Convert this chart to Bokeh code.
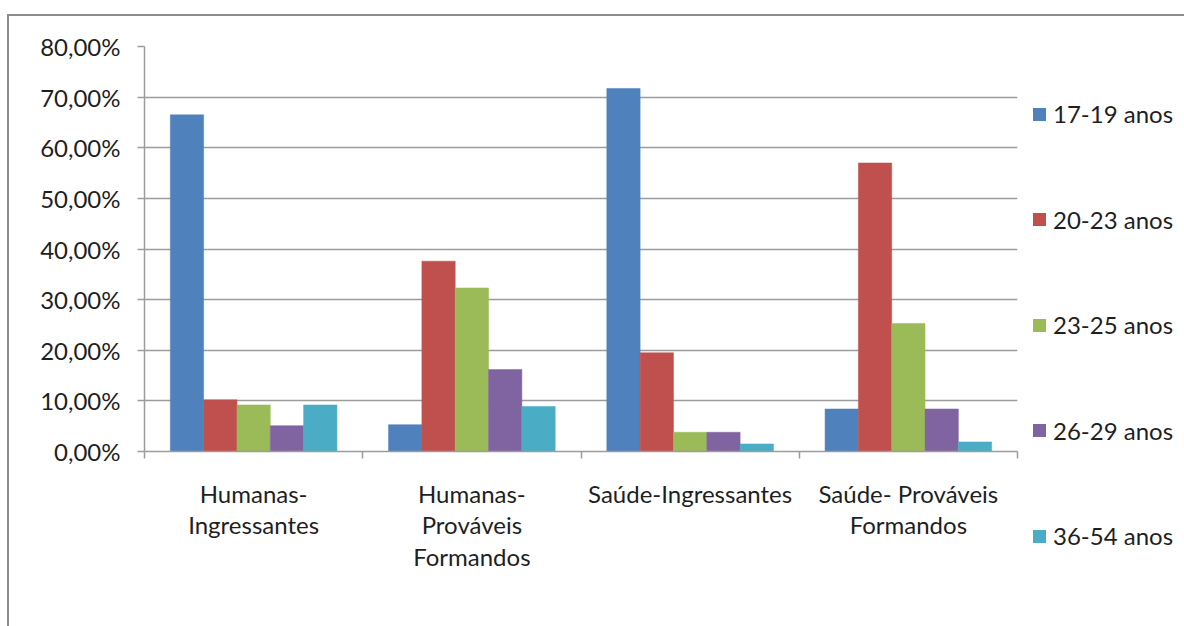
from bokeh.plotting import figure
from bokeh.layouts import row
from bokeh.models import ColumnDataSource, Range1d, FixedTicker, Div
from bokeh.transform import dodge
from bokeh.embed import file_html
from bokeh.resources import INLINE

# Age distribution of students by area and stage (percent)
categories = [
    "Humanas-\nIngressantes",
    "Humanas-\nProváveis\nFormandos",
    "Saúde-Ingressantes",
    "Saúde- Prováveis\nFormandos",
]
series = ["17-19 anos", "20-23 anos", "23-25 anos", "26-29 anos", "36-54 anos"]
colors = ["#4F81BD", "#C0504D", "#9BBB59", "#8064A2", "#4BACC6"]

v_17_19 = [66.5, 5.3, 71.7, 8.4]
v_20_23 = [10.2, 37.6, 19.5, 57.0]
v_23_25 = [9.2, 32.3, 3.8, 25.3]
v_26_29 = [5.1, 16.2, 3.8, 8.4]
v_36_54 = [9.2, 8.9, 1.5, 1.9]

y_ticks = [0, 10, 20, 30, 40, 50, 60, 70, 80]
y_tick_labels = ["0,00%", "10,00%", "20,00%", "30,00%", "40,00%",
                 "50,00%", "60,00%", "70,00%", "80,00%"]

FONT = "Lato"
TEXT = "#1f1f1f"
GRID = "#9c9c9c"
FS = "24px"

centers = [i + 0.5 for i in range(len(categories))]
keys = ["s0", "s1", "s2", "s3", "s4"]
src = ColumnDataSource(dict(x=centers, s0=v_17_19, s1=v_20_23, s2=v_23_25,
                            s3=v_26_29, s4=v_36_54))

# main bar chart
p = figure(width=1010, height=610, output_backend="svg", toolbar_location=None,
           x_range=Range1d(0, len(categories)), y_range=Range1d(0, 80),
           min_border_left=135, min_border_right=2,
           min_border_top=30, min_border_bottom=175)
p.outline_line_color = None
p.background_fill_color = "white"
p.border_fill_color = "white"

bar_w = 0.1527
for k, (key, col) in enumerate(zip(keys, colors)):
    p.vbar(x=dodge("x", (k - 2) * bar_w, range=p.x_range), top=key,
           width=bar_w, source=src, fill_color=col, line_color=col,
           line_width=0.5)

# y axis
p.yaxis.ticker = FixedTicker(ticks=y_ticks)
p.yaxis.major_label_overrides = {t: s for t, s in zip(y_ticks, y_tick_labels)}
p.yaxis.major_label_text_font = FONT
p.yaxis.major_label_text_font_size = FS
p.yaxis.major_label_text_color = TEXT
p.yaxis.major_label_standoff = 17
p.yaxis.axis_line_color = GRID
p.yaxis.axis_line_width = 1.5
p.yaxis.major_tick_line_color = GRID
p.yaxis.major_tick_line_width = 1.5
p.yaxis.major_tick_out = 7
p.yaxis.major_tick_in = 0
p.yaxis.minor_tick_line_color = None

# x axis: labels at category centres, tick marks at category boundaries
p.xaxis.ticker = FixedTicker(ticks=centers,
                             minor_ticks=list(range(len(categories) + 1)))
p.xaxis.major_label_overrides = {c: s for c, s in zip(centers, categories)}
p.xaxis.major_label_text_font = FONT
p.xaxis.major_label_text_font_size = FS
p.xaxis.major_label_text_color = TEXT
p.xaxis.major_label_text_line_height = 1.1
p.xaxis.major_label_standoff = 20
p.xaxis.major_label_orientation = "horizontal"
p.xaxis.axis_line_color = GRID
p.xaxis.axis_line_width = 1.5
p.xaxis.major_tick_line_color = None
p.xaxis.minor_tick_line_color = GRID
p.xaxis.minor_tick_line_width = 1.5
p.xaxis.minor_tick_out = 7
p.xaxis.minor_tick_in = 0

p.xgrid.grid_line_color = None
p.ygrid.grid_line_color = GRID
p.ygrid.grid_line_width = 1.5

# legend column on the right
entries = []
for i, (name, col) in enumerate(zip(series, colors)):
    top = 83 + i * 105.5
    entries.append(
        f'<div style="position:absolute;left:14px;top:{top}px;height:30px;'
        f'display:flex;align-items:center;white-space:nowrap;">'
        f'<span style="display:inline-block;width:13px;height:13px;'
        f'background:{col};margin-right:7px;"></span>'
        f'<span>{name}</span></div>'
    )
legend_html = (
    f'<div style="position:relative;width:165px;height:610px;'
    f'font-family:{FONT};font-size:{FS};color:{TEXT};line-height:30px;">'
    + "".join(entries) + "</div>"
)
leg = Div(text=legend_html, width=165, height=610, margin=0,
          styles={"background": "white"})

layout = row(p, leg, margin=(14, 0, 0, 7), spacing=0,
             styles={"border-left": "2px solid #8c8c8c",
                     "border-top": "2px solid #8c8c8c",
                     "background": "white"})

open("out.html", "w").write(file_html(layout, INLINE))
